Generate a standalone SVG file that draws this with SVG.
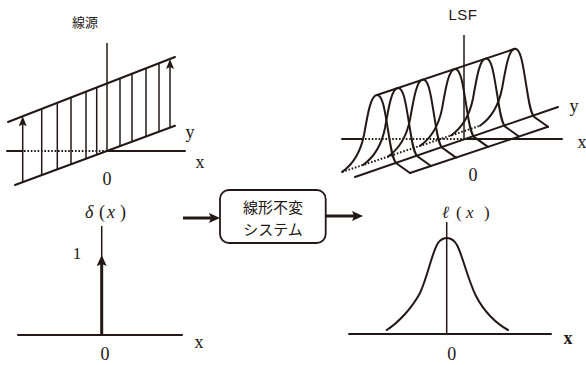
<svg xmlns="http://www.w3.org/2000/svg" xmlns:xlink="http://www.w3.org/1999/xlink" width="586" height="365" viewBox="0 0 586 365">
<style>
.ln{stroke:#231815;stroke-width:2;fill:none;stroke-linecap:round}
.thin{stroke:#231815;stroke-width:1.5;fill:none}
.dot{stroke:#231815;stroke-width:2;fill:none;stroke-dasharray:1.6 1.8}
.thick{stroke:#231815;stroke-width:3;fill:none}
.serif{font-family:"Liberation Serif","DejaVu Serif",serif;fill:#231815}
.it{font-style:italic}
.jp{font-family:"Noto Sans CJK JP","Noto Sans CJK SC",sans-serif;fill:#231815}
.sans{font-family:"Liberation Sans","Noto Sans",sans-serif;fill:#231815}
</style>
<defs>
<marker id="ahThin" viewBox="0 0 10 8" refX="3" refY="4" markerWidth="10" markerHeight="8" markerUnits="userSpaceOnUse" orient="auto"><path d="M0,0 L10,4 L0,8 L2,4 z" fill="#231815"/></marker>
<marker id="ahThick" viewBox="0 0 11 10" refX="3" refY="5" markerWidth="11" markerHeight="10" markerUnits="userSpaceOnUse" orient="auto"><path d="M0,0 L11,5 L0,10 L2,5 z" fill="#231815"/></marker>
<path id="lsfCurve" d="M342,172 C352,165 360,155 364,135 C368,112 371,95 377,95 C383,95 385,112 388,130 C391,148 392,158 396,163 L410,173"/>
</defs>

<g id="panel-source">
<text class="jp" x="85" y="27" font-size="13" text-anchor="middle">線源</text>
<line class="thin" x1="107" y1="43" x2="107" y2="151"/>
<line class="ln" x1="7" y1="151" x2="22.7" y2="151"/>
<line class="dot" x1="24" y1="151" x2="106" y2="151"/>
<line class="ln" x1="107" y1="151" x2="185" y2="151"/>
<line class="ln" x1="8" y1="122" x2="175" y2="57"/>
<line class="ln" x1="15" y1="185" x2="175" y2="125.8"/>
<g class="thin">
<line x1="41.7" y1="108.9" x2="41.7" y2="175.2"/>
<line x1="57.3" y1="102.8" x2="57.3" y2="169.4"/>
<line x1="71" y1="97.5" x2="71" y2="164.3"/>
<line x1="86" y1="91.7" x2="86" y2="158.8"/>
<line x1="96.7" y1="87.5" x2="96.7" y2="154.8"/>
<line x1="120" y1="78.4" x2="120" y2="146.2"/>
<line x1="132" y1="73.8" x2="132" y2="141.8"/>
<line x1="146" y1="68.3" x2="146" y2="136.6"/>
<line x1="159" y1="63.3" x2="159" y2="131.8"/>
</g>
<line class="thin" x1="22.7" y1="182.3" x2="22.7" y2="123.3" marker-end="url(#ahThin)"/>
<line class="thin" x1="170" y1="127.7" x2="170" y2="66" marker-end="url(#ahThin)"/>
<text class="serif" x="190" y="138" font-size="18" text-anchor="middle">y</text>
<text class="serif" x="200" y="168" font-size="18" text-anchor="middle">x</text>
<text class="serif" x="107" y="185" font-size="18" text-anchor="middle">0</text>
</g>

<g id="panel-lsf">
<text class="sans" x="463" y="20" font-size="15" text-anchor="middle" letter-spacing="0.5">LSF</text>
<line class="thin" x1="464" y1="35" x2="464" y2="139"/>
<line class="ln" x1="342" y1="139" x2="363" y2="139"/>
<line class="dot" x1="365" y1="139" x2="463" y2="139"/>
<line class="ln" x1="464" y1="139" x2="562" y2="139"/>
<line class="dot" x1="342" y1="172" x2="480" y2="125.8"/>
<line class="ln" x1="355" y1="177" x2="558" y2="107"/>
<line class="ln" x1="410" y1="173" x2="548" y2="126.8"/>
<line class="ln" x1="377" y1="95" x2="515" y2="48.8"/>
<g class="ln">
<use xlink:href="#lsfCurve"/>
<use xlink:href="#lsfCurve" transform="translate(21,-7)"/>
<use xlink:href="#lsfCurve" transform="translate(46,-15.4)"/>
<use xlink:href="#lsfCurve" transform="translate(78,-26.1)"/>
<use xlink:href="#lsfCurve" transform="translate(109,-36.5)"/>
<use xlink:href="#lsfCurve" transform="translate(138,-46.2)"/>
</g>
<text class="serif" x="574" y="112" font-size="18" text-anchor="middle">y</text>
<text class="serif" x="582" y="148" font-size="18" text-anchor="middle">x</text>
<text class="serif" x="473" y="181" font-size="18" text-anchor="middle">0</text>
</g>

<g id="panel-delta">
<text class="serif" y="218" font-size="18"><tspan class="it" x="85">δ</tspan><tspan x="99">(</tspan><tspan class="it" x="107">x</tspan><tspan x="120">)</tspan></text>
<line class="thin" x1="101.7" y1="226" x2="101.7" y2="335"/>
<line class="thick" x1="101.7" y1="335" x2="101.7" y2="263" marker-end="url(#ahThick)"/>
<text class="serif" x="77" y="259" font-size="17" text-anchor="middle">1</text>
<line class="ln" x1="18" y1="335" x2="182" y2="335"/>
<text class="serif" x="199" y="348" font-size="18" text-anchor="middle">x</text>
<text class="serif" x="105" y="360" font-size="18" text-anchor="middle">0</text>
</g>

<g id="node-system">
<rect x="220" y="190" width="105.7" height="53" rx="9" ry="9" fill="#fff" stroke="#231815" stroke-width="1.8"/>
<text class="jp" x="273" y="213" font-size="15" text-anchor="middle">線形不変</text>
<text class="jp" x="273" y="235" font-size="15" text-anchor="middle">システム</text>
</g>

<g id="panel-lx">
<text class="serif" y="218" font-size="17"><tspan class="it" x="442">ℓ</tspan><tspan x="456">(</tspan><tspan class="it" x="466">x</tspan><tspan x="484">)</tspan></text>
<line class="thin" x1="446.7" y1="222" x2="446.7" y2="334"/>
<line class="ln" x1="349" y1="334" x2="551" y2="334"/>
<path class="ln" d="M386.7,330 C398,323 412,308 420,293 C428,276 432,252 438,243 C441,239 443,238 447,238 C451,238 454,240 457,245 C462,254 468,280 476,296 C484,312 497,324 508,330"/>
<text class="serif" x="568" y="344" font-size="18" font-weight="bold" text-anchor="middle">x</text>
<text class="serif" x="451.7" y="360" font-size="18" text-anchor="middle">0</text>
</g>

<g id="connectors">
<line class="thick" x1="183" y1="218" x2="212" y2="218" marker-end="url(#ahThick)"/>
<line class="thick" x1="326" y1="216" x2="355" y2="216" marker-end="url(#ahThick)"/>
</g>
</svg>
